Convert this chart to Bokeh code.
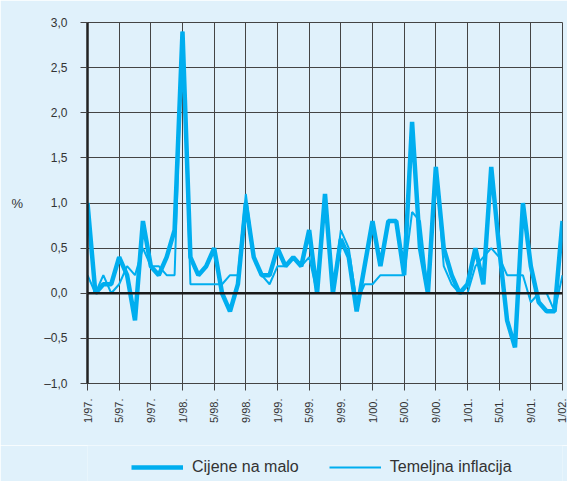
from bokeh.plotting import figure
from bokeh.layouts import column
from bokeh.models import Range1d, FixedTicker, Span, Legend, LegendItem
from bokeh.embed import file_html
from bokeh.resources import INLINE

# Monthly data 1/97 .. 1/02 (61 months)
months = list(range(61))
tick_positions = list(range(0, 61, 4))
tick_labels = ["1/97.", "5/97.", "9/97.", "1/98.", "5/98.", "9/98.", "1/99.", "5/99.",
               "9/99.", "1/00.", "5/00.", "9/00.", "1/01.", "5/01.", "9/01.", "1/02."]

cijene_na_malo = [1.0, 0.0, 0.1, 0.1, 0.4, 0.2, -0.3, 0.8, 0.3, 0.2, 0.4, 0.7,
                  2.9, 0.4, 0.2, 0.3, 0.5, 0.0, -0.2, 0.1, 1.0, 0.4, 0.2, 0.2,
                  0.5, 0.3, 0.4, 0.3, 0.7, 0.0, 1.1, 0.0, 0.6, 0.4, -0.2, 0.3,
                  0.8, 0.3, 0.8, 0.8, 0.2, 1.9, 0.5, 0.0, 1.4, 0.5, 0.2, 0.0,
                  0.1, 0.5, 0.1, 1.4, 0.5, -0.3, -0.6, 1.0, 0.3, -0.1, -0.2, -0.2,
                  0.8]
temeljna_inflacija = [0.2, 0.0, 0.2, 0.0, 0.1, 0.3, 0.2, 0.5, 0.3, 0.3, 0.2, 0.2,
                      2.9, 0.1, 0.1, 0.1, 0.1, 0.1, 0.2, 0.2, 1.1, 0.4, 0.2, 0.1,
                      0.3, 0.3, 0.4, 0.3, 0.4, 0.0, 1.1, 0.0, 0.7, 0.5, -0.1, 0.1,
                      0.1, 0.2, 0.2, 0.2, 0.2, 0.9, 0.8, 0.0, 1.4, 0.3, 0.1, 0.0,
                      0.0, 0.3, 0.4, 0.5, 0.4, 0.2, 0.2, 0.2, -0.1, 0.0, 0.0, -0.2,
                      0.2]

y_ticks = [-1.0, -0.5, 0.0, 0.5, 1.0, 1.5, 2.0, 2.5, 3.0]
y_tick_labels = ["–1,0", "–0,5", "0,0", "0,5", "1,0", "1,5", "2,0", "2,5", "3,0"]

BG = "#e0f1fb"
LINE = "#00aeef"
GRID = "#444444"
TXT = "#333333"
FONT = "Liberation Sans"

p = figure(width=567, height=445, output_backend="svg", toolbar_location=None,
           x_range=Range1d(0, 60), y_range=Range1d(-1, 3),
           min_border_left=87, min_border_right=5, min_border_top=22,
           min_border_bottom=62)
p.background_fill_color = BG
p.border_fill_color = BG
p.outline_line_color = GRID
p.outline_line_width = 1

# grids
p.xgrid.ticker = FixedTicker(ticks=tick_positions)
p.ygrid.ticker = FixedTicker(ticks=y_ticks)
for g in (p.xgrid, p.ygrid):
    g.grid_line_color = GRID
    g.grid_line_width = 1

# x axis
xa = p.xaxis[0]
xa.ticker = FixedTicker(ticks=tick_positions)
xa.major_label_overrides = {t: l for t, l in zip(tick_positions, tick_labels)}
xa.major_label_orientation = 1.5707963267948966
xa.major_tick_in = 0
xa.major_tick_out = 7
xa.minor_tick_line_color = None
xa.major_tick_line_color = GRID
xa.axis_line_color = GRID
xa.major_label_standoff = 8
xa.major_label_text_font = FONT
xa.major_label_text_font_size = "11px"
xa.major_label_text_color = TXT

# y axis
ya = p.yaxis[0]
ya.ticker = FixedTicker(ticks=y_ticks)
ya.major_label_overrides = {t: l for t, l in zip(y_ticks, y_tick_labels)}
ya.major_tick_in = 0
ya.major_tick_out = 7
ya.minor_tick_line_color = None
ya.major_tick_line_color = GRID
ya.axis_line_color = "#222222"
ya.axis_line_width = 2.5
ya.major_label_standoff = 13
ya.major_label_text_font = FONT
ya.major_label_text_font_size = "12px"
ya.major_label_text_color = TXT
ya.axis_label = "%"
ya.axis_label_orientation = "horizontal"
ya.axis_label_standoff = 18
ya.axis_label_text_font = FONT
ya.axis_label_text_font_size = "13px"
ya.axis_label_text_font_style = "normal"
ya.axis_label_text_color = TXT

# zero line
p.add_layout(Span(location=0, dimension="width", line_color="#1a1a1a", line_width=2.5))

p.line(months, cijene_na_malo, line_color=LINE, line_width=4.5)
p.line(months, temeljna_inflacija, line_color=LINE, line_width=2)

# legend strip below the chart (its lines lie outside its visible range)
pl = figure(width=567, height=36, output_backend="svg", toolbar_location=None,
            x_range=Range1d(-100, -90), y_range=Range1d(0, 1),
            x_axis_type=None, y_axis_type=None,
            min_border_left=0, min_border_right=0, min_border_top=0,
            min_border_bottom=0)
pl.background_fill_color = BG
pl.border_fill_color = BG
pl.outline_line_color = None
pl.xgrid.visible = False
pl.ygrid.visible = False
l1 = pl.line(months, cijene_na_malo, line_color=LINE, line_width=4.5)
l2 = pl.line(months, temeljna_inflacija, line_color=LINE, line_width=2)

legend = Legend(items=[LegendItem(label="Cijene na malo", renderers=[l1]),
                       LegendItem(label="Temeljna inflacija", renderers=[l2])],
                orientation="horizontal", location=(44, 4),
                background_fill_alpha=0, border_line_alpha=0,
                glyph_width=52, glyph_height=20, label_height=20,
                label_standoff=9, spacing=30, padding=0, margin=0,
                label_text_font=FONT, label_text_font_size="16px",
                label_text_color=TXT)
pl.add_layout(legend)

open("out.html", "w").write(file_html(column(p, pl, spacing=0), INLINE))
